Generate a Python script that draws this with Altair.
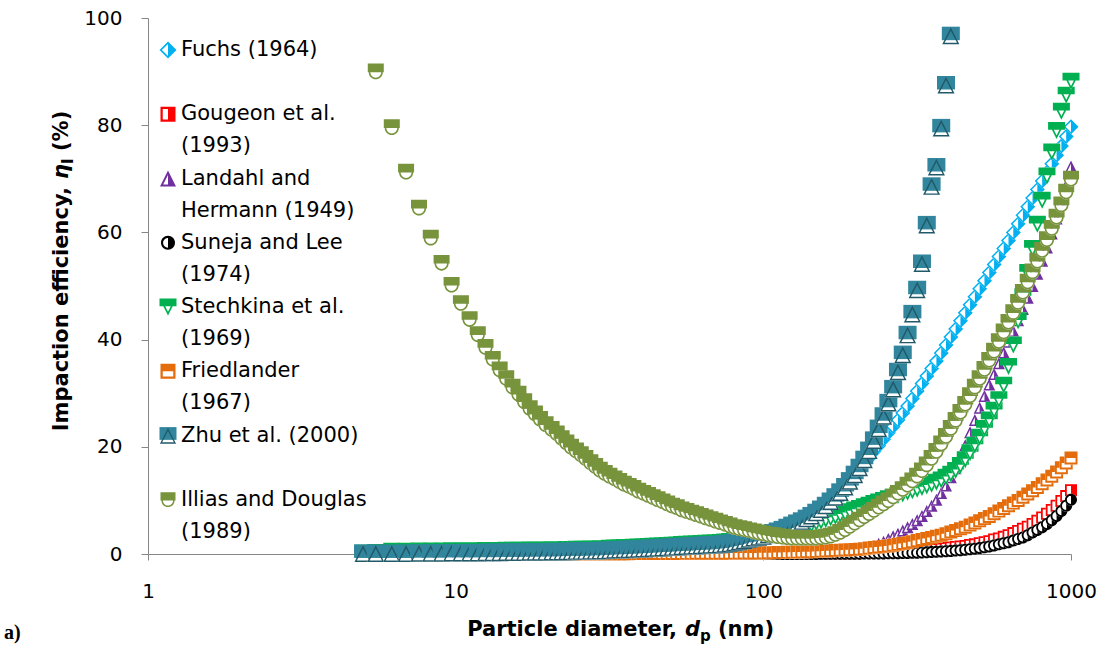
import altair as alt
import pandas as pd

# ---------------- data ----------------
DP_LOW = [5.0, 5.5, 6.2, 6.9, 7.6, 8.3, 9.0, 9.7, 10.4, 11.1,
          11.8, 12.5, 13.2, 13.9, 14.6, 15.3, 16.0, 16.7, 17.4, 18.1,
          18.8, 19.6]
DP_MID = [20.5, 21.3, 22.1, 22.9, 23.7, 24.6, 25.5, 26.4, 27.4, 28.4,
          29.4, 30.5, 31.6, 32.8, 34.0, 35.2, 36.5, 37.8, 39.2, 40.7,
          42.2, 43.7, 45.3, 47.0, 48.7, 50.5, 52.3, 54.2, 56.2, 58.3,
          60.4, 62.6, 64.9, 67.3, 69.8, 72.3, 75.0, 77.7, 80.6, 83.5,
          86.6, 89.8, 93.1, 96.5]
DP_HIGH = [100.0, 103.7, 107.5, 111.4, 115.5, 119.7, 124.1, 128.7, 133.4, 138.3,
           143.3, 148.6, 154.0, 159.6, 165.5, 171.5, 177.8, 184.4, 191.1, 198.1,
           205.4, 212.9, 220.7, 228.8, 237.1, 245.9, 254.9, 264.2, 273.9, 283.9,
           294.3, 305.1, 316.2, 327.8, 339.8, 352.3, 365.2, 378.6, 392.4, 406.8,
           421.7, 437.2, 453.2, 469.8, 487.0, 504.8, 523.3, 542.4, 562.3, 582.9,
           604.3, 626.4, 649.4, 673.2, 697.8, 723.4, 749.9, 777.4, 805.9, 835.4,
           866.0, 897.7, 930.6, 964.7, 1000.0]
DP = DP_LOW + DP_MID + DP_HIGH

ZERO_LOW = [0.0, 0.0, 0.0, 0.0, 0.0, 0.0, 0.0, 0.0, 0.0, 0.0,
            0.0, 0.0, 0.0, 0.0, 0.0, 0.0, 0.0, 0.0, 0.0, 0.0,
            0.0, 0.0]
ZERO_MID = [0.0, 0.0, 0.0, 0.0, 0.0, 0.0, 0.0, 0.0, 0.0, 0.0,
            0.0, 0.0, 0.0, 0.0, 0.0, 0.0, 0.0, 0.0, 0.0, 0.0,
            0.0, 0.0, 0.0, 0.0, 0.0, 0.0, 0.0, 0.0, 0.0, 0.0,
            0.0, 0.0, 0.0, 0.0, 0.0, 0.0, 0.0, 0.0, 0.0, 0.0,
            0.0, 0.0, 0.0, 0.0]

FUCHS_LOW = [0.0, 0.0, 0.0, 0.0, 0.0, 0.0, 0.0, 0.0, 0.0, 0.0,
             0.0, 0.0, 0.0, 0.0, 0.1, 0.1, 0.1, 0.1, 0.1, 0.1,
             0.1, 0.1]
FUCHS_MID = [0.1, 0.1, 0.1, 0.1, 0.1, 0.2, 0.2, 0.2, 0.2, 0.2,
             0.2, 0.3, 0.3, 0.3, 0.3, 0.4, 0.4, 0.4, 0.5, 0.5,
             0.5, 0.6, 0.6, 0.7, 0.7, 0.8, 0.8, 0.9, 1.0, 1.0,
             1.1, 1.2, 1.3, 1.4, 1.5, 1.6, 1.7, 1.8, 2.0, 2.1,
             2.3, 2.5, 2.7, 2.9]
FUCHS_HIGH = [3.1, 3.4, 3.7, 4.0, 4.4, 4.8, 5.2, 5.6, 6.1, 6.6,
              7.2, 7.8, 8.5, 9.3, 10.2, 11.1, 12.0, 13.0, 13.9, 14.8,
              15.8, 16.8, 17.9, 19.1, 20.2, 21.4, 22.6, 23.8, 25.0, 26.3,
              27.6, 29.0, 30.4, 31.8, 33.2, 34.6, 36.0, 37.5, 39.0, 40.5,
              42.0, 43.5, 45.0, 46.5, 48.0, 49.5, 51.0, 52.5, 54.0, 55.5,
              57.0, 58.5, 60.0, 61.6, 63.2, 64.8, 66.4, 68.0, 69.6, 71.2,
              72.8, 74.4, 76.1, 77.9, 79.7]

GOUGEON_HIGH = [0.0, 0.0, 0.0, 0.0, 0.0, 0.05, 0.05, 0.05, 0.06, 0.07,
                0.08, 0.09, 0.1, 0.1, 0.11, 0.12, 0.13, 0.15, 0.16, 0.17,
                0.19, 0.21, 0.23, 0.25, 0.28, 0.31, 0.34, 0.37, 0.4, 0.45,
                0.5, 0.55, 0.6, 0.65, 0.7, 0.8, 0.9, 1.0, 1.1, 1.2,
                1.3, 1.4, 1.5, 1.7, 1.8, 2.0, 2.2, 2.4, 2.7, 2.9,
                3.2, 3.5, 3.9, 4.3, 4.7, 5.1, 5.6, 6.2, 6.8, 7.5,
                8.2, 9.0, 9.9, 10.8, 11.9]

LANDAHL_HIGH = [0.0, 0.0, 0.0, 0.0, 0.0, 0.0, 0.0, 0.0, 0.0, 0.0,
                0.0, 0.1, 0.1, 0.1, 0.2, 0.2, 0.3, 0.4, 0.5, 0.6,
                0.8, 1.0, 1.2, 1.5, 1.9, 2.3, 2.8, 3.3, 3.8, 4.4,
                5.0, 5.6, 6.3, 7.1, 8.0, 9.0, 10.1, 11.4, 12.8, 14.3,
                16.0, 18.0, 20.3, 22.7, 25.0, 27.3, 29.5, 31.6, 33.6, 35.6,
                37.6, 39.6, 41.6, 43.6, 45.7, 47.8, 50.0, 52.3, 54.7, 57.2,
                59.8, 62.6, 65.6, 68.8, 72.3]

SUNEJA_HIGH = [0.0, 0.0, 0.0, 0.01, 0.01, 0.01, 0.01, 0.01, 0.02, 0.02,
               0.02, 0.02, 0.03, 0.03, 0.03, 0.04, 0.04, 0.05, 0.05, 0.06,
               0.06, 0.07, 0.08, 0.09, 0.1, 0.11, 0.12, 0.14, 0.16, 0.18,
               0.2, 0.22, 0.25, 0.28, 0.31, 0.35, 0.4, 0.45, 0.5, 0.56,
               0.63, 0.7, 0.8, 0.9, 1.0, 1.1, 1.25, 1.4, 1.6, 1.8,
               2.0, 2.2, 2.5, 2.8, 3.1, 3.5, 4.0, 4.5, 5.0, 5.6,
               6.3, 7.1, 8.0, 9.0, 10.1]

STECHKINA_LOW = [0.2, 0.3, 0.5, 0.5, 0.55, 0.55, 0.55, 0.6, 0.6, 0.6,
                 0.6, 0.65, 0.65, 0.65, 0.7, 0.7, 0.7, 0.7, 0.75, 0.75,
                 0.75, 0.75]
STECHKINA_MID = [0.8, 0.8, 0.8, 0.85, 0.85, 0.9, 0.9, 0.9, 0.95, 0.95,
                 1.0, 1.0, 1.05, 1.1, 1.15, 1.2, 1.2, 1.25, 1.3, 1.35,
                 1.4, 1.45, 1.5, 1.55, 1.6, 1.65, 1.7, 1.75, 1.8, 1.85,
                 1.9, 1.95, 2.0, 2.05, 2.1, 2.15, 2.25, 2.35, 2.5, 2.7,
                 2.9, 3.1, 3.3, 3.45]
STECHKINA_HIGH = [3.6, 3.7, 3.9, 4.0, 4.2, 4.4, 4.6, 4.8, 5.0, 5.3,
                  5.5, 5.8, 6.1, 6.4, 6.7, 7.0, 7.3, 7.6, 7.9, 8.2,
                  8.5, 8.8, 9.1, 9.4, 9.7, 10.0, 10.3, 10.6, 10.9, 11.2,
                  11.5, 11.8, 12.1, 12.4, 12.7, 13.0, 13.4, 13.8, 14.3, 14.9,
                  15.6, 16.5, 17.6, 18.9, 20.3, 21.8, 23.4, 25.0, 26.8, 28.8,
                  31.5, 35.0, 39.0, 43.5, 48.0, 52.5, 57.0, 61.5, 66.0, 70.5,
                  75.0, 79.0, 82.6, 85.6, 88.2]

FRIEDLANDER_MID = [0.02, 0.02, 0.02, 0.02, 0.03, 0.03, 0.03, 0.03, 0.04, 0.04,
                   0.04, 0.05, 0.05, 0.05, 0.06, 0.06, 0.06, 0.07, 0.07, 0.08,
                   0.08, 0.08, 0.09, 0.09, 0.1, 0.1, 0.11, 0.11, 0.12, 0.12,
                   0.13, 0.13, 0.14, 0.14, 0.15, 0.15, 0.16, 0.16, 0.17, 0.17,
                   0.18, 0.19, 0.2, 0.2]
FRIEDLANDER_HIGH = [0.21, 0.23, 0.25, 0.27, 0.29, 0.31, 0.33, 0.35, 0.38, 0.41,
                    0.44, 0.47, 0.5, 0.55, 0.6, 0.65, 0.7, 0.75, 0.8, 0.85,
                    0.9, 1.0, 1.1, 1.2, 1.3, 1.4, 1.5, 1.65, 1.8, 1.95,
                    2.1, 2.3, 2.5, 2.7, 2.9, 3.1, 3.3, 3.5, 3.8, 4.1,
                    4.4, 4.7, 5.0, 5.4, 5.8, 6.2, 6.6, 7.0, 7.5, 8.0,
                    8.5, 9.0, 9.5, 10.0, 10.6, 11.2, 11.8, 12.4, 13.1, 13.8,
                    14.5, 15.3, 16.1, 17.0, 17.9]

ZHU_LOW = [0.1, 0.1, 0.1, 0.1, 0.15, 0.15, 0.15, 0.2, 0.2, 0.2,
           0.2, 0.25, 0.25, 0.25, 0.3, 0.3, 0.3, 0.3, 0.35, 0.35,
           0.35, 0.35]
ZHU_MID = [0.4, 0.4, 0.4, 0.45, 0.45, 0.5, 0.5, 0.5, 0.55, 0.55,
           0.6, 0.6, 0.65, 0.7, 0.75, 0.8, 0.8, 0.85, 0.9, 0.95,
           1.0, 1.05, 1.1, 1.15, 1.2, 1.25, 1.3, 1.35, 1.4, 1.45,
           1.5, 1.55, 1.6, 1.65, 1.7, 1.75, 1.85, 1.95, 2.1, 2.3,
           2.5, 2.75, 3.0, 3.15]
ZHU_HIGH = [3.3, 3.6, 3.9, 4.2, 4.5, 4.9, 5.3, 5.7, 6.1, 6.6,
            7.1, 7.7, 8.3, 9.0, 9.8, 10.6, 11.5, 12.5, 13.6, 14.8,
            16.1, 17.6, 19.3, 21.2, 23.4, 25.7, 28.2, 30.8, 34.0, 37.2,
            40.9, 44.8, 49.3, 54.2, 61.4, 68.6, 72.2, 79.5, 87.5, 96.7,
            None, None, None, None, None, None, None, None, None, None,
            None, None, None, None, None, None, None, None, None, None,
            None, None, None, None, None]

ILLIAS_LOW = [None, 90.0, 79.6, 71.3, 64.6, 59.0, 54.3, 50.2, 46.8, 43.8,
              41.0, 38.6, 36.4, 34.4, 32.8, 31.2, 29.9, 28.5, 27.2, 26.2,
              25.2, 24.2]
ILLIAS_MID = [23.3, 22.5, 21.6, 20.8, 20.0, 19.3, 18.6, 17.9, 17.1, 16.4,
              15.7, 15.1, 14.6, 14.1, 13.6, 13.1, 12.7, 12.3, 11.8, 11.4,
              11.0, 10.6, 10.2, 9.8, 9.4, 9.0, 8.7, 8.3, 8.0, 7.7,
              7.4, 7.1, 6.8, 6.5, 6.2, 5.9, 5.6, 5.3, 5.0, 4.8,
              4.6, 4.4, 4.2, 4.0]
ILLIAS_HIGH = [3.8, 3.6, 3.5, 3.3, 3.2, 3.1, 3.0, 3.0, 3.0, 3.0,
               3.0, 3.0, 3.1, 3.2, 3.4, 3.7, 4.1, 4.6, 5.2, 5.8,
               6.4, 7.0, 7.6, 8.2, 8.8, 9.4, 10.0, 10.7, 11.4, 12.1,
               12.9, 13.7, 14.6, 15.6, 16.7, 17.9, 19.2, 20.6, 22.0, 23.5,
               25.0, 26.5, 28.0, 29.6, 31.2, 32.8, 34.5, 36.2, 37.9, 39.7,
               41.5, 43.3, 45.1, 47.0, 48.9, 50.8, 52.7, 54.7, 56.7, 58.7,
               60.8, 62.9, 65.2, 67.6, 70.0]

SERIES = ["Fuchs (1964)", "Gougeon et al. (1993)", "Landahl and Hermann (1949)",
          "Suneja and Lee (1974)", "Stechkina et al. (1969)", "Friedlander (1967)",
          "Zhu et al. (2000)", "Illias and Douglas (1989)"]
SERIES_VALUES = [
    FUCHS_LOW + FUCHS_MID + FUCHS_HIGH,
    ZERO_LOW + ZERO_MID + GOUGEON_HIGH,
    ZERO_LOW + ZERO_MID + LANDAHL_HIGH,
    ZERO_LOW + ZERO_MID + SUNEJA_HIGH,
    STECHKINA_LOW + STECHKINA_MID + STECHKINA_HIGH,
    ZERO_LOW + FRIEDLANDER_MID + FRIEDLANDER_HIGH,
    ZHU_LOW + ZHU_MID + ZHU_HIGH,
    ILLIAS_LOW + ILLIAS_MID + ILLIAS_HIGH,
]
LEGEND_LINES = [
    ["Fuchs (1964)", ""],
    ["Gougeon et al.", "(1993)"],
    ["Landahl and", "Hermann (1949)"],
    ["Suneja and Lee", "(1974)"],
    ["Stechkina et al.", "(1969)"],
    ["Friedlander", "(1967)"],
    ["Zhu et al. (2000)", ""],
    ["Illias and Douglas", "(1989)"],
]
X_TICKS = [1, 10, 100, 1000]
Y_TICKS = [0, 20, 40, 60, 80, 100]

# ---------------- styles ----------------
WHITE = "#FFFFFF"
MARKER_PARTS = [
    [("M0,-1L1,0L0,1L-1,0Z", WHITE),
     ("M0,-1L1,0L0,1Z M0,-1L-1,0L0,1Z M0,-0.72L0,0.72L-0.72,0Z", "#00B0F0")],
    [("M-1,-1L1,-1L1,1L-1,1Z", WHITE),
     ("M0,-1L1,-1L1,1L0,1Z M0,-1L-1,-1L-1,1L0,1Z M0,-0.7L0,0.7L-0.7,0.7L-0.7,-0.7Z", "#FF0000")],
    [("M0,-1L1,1L-1,1Z", WHITE),
     ("M0,-1L1,1L0,1Z M0,-1L-1,1L0,1Z M0,-0.45L0,0.75L-0.6,0.75Z", "#7030A0")],
    [("M-1,0A1,1,0,1,1,1,0A1,1,0,1,1,-1,0Z", WHITE),
     ("M0,-1A1,1,0,0,1,0,1Z M0,-1A1,1,0,0,0,0,1Z M0,-0.7L0,0.7A0.7,0.7,0,0,1,0,-0.7Z", "#000000")],
    [("M-1,-1L1,-1L0,1Z", WHITE),
     ("M-1,-1L1,-1L1,-0.1L-1,-0.1Z M-0.55,-0.1L0,1L0.55,-0.1Z M-0.33,-0.1L0.33,-0.1L0,0.55Z", "#00B050")],
    [("M-1,-1L1,-1L1,1L-1,1Z", WHITE),
     ("M-1,-1L1,-1L1,0L-1,0Z M-1,0L-1,1L1,1L1,0Z M-0.7,0L0.7,0L0.7,0.7L-0.7,0.7Z", "#E46C0A")],
    [("M0,-0.9L0.95,0.95L-0.95,0.95Z", WHITE),
     ("M-1,-1L1,-1L1,0.5L-1,0.5Z", "#31859C"),
     ("M0,-0.9L-0.95,0.95L0.95,0.95Z M0,-0.55L0.69,0.79L-0.69,0.79Z", "#215968")],
    [("M-0.88,0.08A0.88,0.88,0,0,0,0.88,0.08Z", WHITE),
     ("M-1,-1L1,-1L1,0.08L-1,0.08Z M-0.88,0.08A0.88,0.88,0,0,0,0.88,0.08Z "
      "M0.68,0.08A0.68,0.68,0,0,1,-0.68,0.08Z", "#77933C")],
]
MARKER_PX = [15, 12, 12, 12, 17, 13, 18, 16]
LEGEND_PX = [17, 15, 16, 14, 17, 15, 17, 15]
FONT = "DejaVu Sans"
AXC = "#868686"

keys, paths, fills = [], [], []
for si, parts in enumerate(MARKER_PARTS):
    for p, (path, col) in enumerate(parts):
        keys.append(f"s{si}p{p}")
        paths.append(path)
        fills.append(col)
shape_scale = alt.Scale(domain=keys, range=paths)
fill_scale = alt.Scale(domain=keys, range=fills)

rows = []
for si, vals in enumerate(SERIES_VALUES):
    for j, (d, v) in enumerate(zip(DP, vals)):
        if v is None:
            continue
        for p in range(len(MARKER_PARTS[si])):
            rows.append({"dp": d, "eta": v, "series": SERIES[si], "key": f"s{si}p{p}",
                         "area": MARKER_PX[si] ** 2, "ord": si * 100000 + j * 10 + p})
df = pd.DataFrame(rows)

points = alt.Chart(df).mark_point(filled=True, opacity=1, strokeWidth=0).encode(
    x=alt.X("dp:Q", scale=alt.Scale(type="log", domain=[1, 1000], nice=False),
            axis=alt.Axis(values=X_TICKS, format="d", title=None, grid=False, tickSize=6,
                          tickColor=AXC, domainColor=AXC, labelFont=FONT, labelFontSize=20,
                          labelColor="#000000", labelPadding=21, labelFlush=False)),
    y=alt.Y("eta:Q", scale=alt.Scale(domain=[0, 100], nice=False),
            axis=alt.Axis(values=Y_TICKS, title=None, grid=False, tickSize=7,
                          tickColor=AXC, domainColor=AXC, labelFont=FONT, labelFontSize=20,
                          labelColor="#000000", labelPadding=19, labelFlush=False)),
    shape=alt.Shape("key:N", scale=shape_scale, legend=None),
    fill=alt.Fill("key:N", scale=fill_scale, legend=None),
    size=alt.Size("area:Q", scale=None),
    order=alt.Order("ord:Q"),
)

# ---------------- legend (drawn inside the plot) ----------------
leg_scale = alt.Scale(domain=[0, 15], range=[32, 514])
sym_rows, txt_rows = [], []
for i, lines in enumerate(LEGEND_LINES):
    for p in range(len(MARKER_PARTS[i])):
        sym_rows.append({"row": 2 * i, "key": f"s{i}p{p}", "area": LEGEND_PX[i] ** 2,
                         "ord": i * 10 + p})
    for j, t in enumerate(lines):
        if t:
            txt_rows.append({"row": 2 * i + j, "text": t})

leg_sym = alt.Chart(pd.DataFrame(sym_rows)).mark_point(filled=True, opacity=1, strokeWidth=0).encode(
    x=alt.value(20),
    y=alt.Y("row:Q", scale=leg_scale, axis=None),
    shape=alt.Shape("key:N", scale=shape_scale, legend=None),
    fill=alt.Fill("key:N", scale=fill_scale, legend=None),
    size=alt.Size("area:Q", scale=None),
    order=alt.Order("ord:Q"),
)
leg_txt = alt.Chart(pd.DataFrame(txt_rows)).mark_text(
    align="left", baseline="middle", font=FONT, fontSize=21, color="#000000"
).encode(
    x=alt.value(33),
    y=alt.Y("row:Q", scale=leg_scale, axis=None),
    text="text:N",
)


def piece(text, x, y, size=21, italic=False, align="left", angle=0, dy=0, font=FONT, baseline="middle"):
    kw = dict(align=align, baseline=baseline, font=font, fontSize=size, fontWeight="bold",
              color="#000000", angle=angle, dy=dy)
    if italic:
        kw["fontStyle"] = "italic"
    return alt.Chart(pd.DataFrame({"t": [text]})).mark_text(**kw).encode(
        x=alt.value(x), y=alt.value(y), text="t:N")


titles = [
    # x title: Particle diameter, d_p (nm)
    piece("Particle diameter,", 529, 612, align="right"),
    piece("d", 537, 612, italic=True),
    piece("p", 552, 612, size=15, dy=6),
    piece("(nm)", 570, 612),
    # y title: Impaction efficiency, eta_I (%)
    piece("Impaction efficiency,", -86, 169, align="right", angle=270),
    piece("\u03b7", -86, 161, italic=True, angle=270),
    piece("I", -86, 146, size=15, angle=270, dy=6),
    piece("(%)", -86, 133, angle=270),
    # panel label
    piece("a)", -144, 621, size=20, font="Liberation Serif", baseline="alphabetic"),
]

chart = alt.layer(points, leg_sym, leg_txt, *titles).resolve_scale(
    y="independent"
).properties(
    width=923, height=536,
    padding={"left": 148, "top": 18, "right": 34, "bottom": 96},
    autosize=alt.AutoSizeParams(type="none"),
    background="white",
).configure_view(stroke="transparent")

chart.save("out.html", embed_options={"renderer": "svg", "actions": False})
